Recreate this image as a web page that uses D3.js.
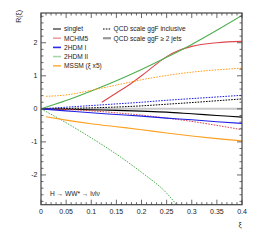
<!DOCTYPE html>
<html>
<head>
<meta charset="utf-8">
<script src="https://cdn.jsdelivr.net/npm/d3@7"></script>
<style>
  body { margin: 0; background: #fff; }
  text { font-family: "Liberation Sans", Arial, sans-serif; }
</style>
</head>
<body>
<svg id="root" width="255" height="245"></svg>
<script>
"use strict";

// series: [xi, R] pairs
const singletSolid = [[0, 0], [0.05, -0.01], [0.1, -0.03], [0.15, -0.045], [0.2, -0.07], [0.25, -0.1], [0.3, -0.15], [0.35, -0.2], [0.4, -0.25]];
const singletDash = [[0, 0], [0.05, 0.01], [0.1, 0.03], [0.15, 0.055], [0.2, 0.09], [0.25, 0.14], [0.3, 0.19], [0.35, 0.245], [0.4, 0.3]];
const mchmSolid = [[0.121, 0.2], [0.15, 0.48], [0.175, 0.72], [0.2, 1.0], [0.225, 1.3], [0.25, 1.58], [0.275, 1.77], [0.3, 1.89], [0.35, 2.0], [0.4, 2.04]];
const mchmDash = [[0, 0], [0.05, -0.02], [0.1, -0.06], [0.15, -0.12], [0.2, -0.19], [0.25, -0.28], [0.3, -0.38], [0.35, -0.5], [0.4, -0.63]];
const thdm1Solid = [[0, 0], [0.05, -0.06], [0.1, -0.12], [0.15, -0.17], [0.2, -0.22], [0.25, -0.28], [0.3, -0.33], [0.35, -0.39], [0.4, -0.44]];
const thdm1Dash = [[0, 0], [0.05, 0.05], [0.1, 0.1], [0.15, 0.15], [0.2, 0.2], [0.25, 0.26], [0.3, 0.31], [0.35, 0.36], [0.4, 0.41]];
const thdm2Solid = [[0, 0], [0.05, 0.25], [0.1, 0.54], [0.15, 0.85], [0.2, 1.19], [0.25, 1.56], [0.3, 1.95], [0.35, 2.38], [0.4, 2.83]];
const thdm2Dash = [[0, 0], [0.05, -0.42], [0.1, -0.88], [0.15, -1.37], [0.2, -1.92], [0.25, -2.55], [0.275, -3.0]];
const mssmSolid = [[0.01, -0.24], [0.05, -0.34], [0.1, -0.45], [0.15, -0.54], [0.2, -0.63], [0.25, -0.73], [0.3, -0.82], [0.35, -0.9], [0.4, -0.97]];
const mssmDash = [[0.01, 0.38], [0.05, 0.42], [0.1, 0.56], [0.15, 0.72], [0.2, 0.88], [0.25, 1.01], [0.3, 1.11], [0.35, 1.18], [0.4, 1.23]];

const xTicks = [0, 0.05, 0.1, 0.15, 0.2, 0.25, 0.3, 0.35, 0.4];
const yTicks = [-2, -1, 0, 1, 2];

const models = [
  { name: "singlet", color: "#000000", solid: singletSolid, dash: singletDash },
  { name: "MCHM5", color: "#e0474c", solid: mchmSolid, dash: mchmDash },
  { name: "2HDM I", color: "#1f1fe6", solid: thdm1Solid, dash: thdm1Dash },
  { name: "2HDM II", color: "#4fae4f", solid: thdm2Solid, dash: thdm2Dash },
  { name: "MSSM (\u03be x5)", color: "#ffa020", solid: mssmSolid, dash: mssmDash },
];
const legendColors = ["#000000", "#eba0a2", "#2a2af0", "#a6d8a6", "#ffb54d"];

const svg = d3.select("#root");
const frame = { left: 41, right: 242, top: 13, bottom: 204.7 };

const x = d3.scaleLinear().domain([0, 0.4]).range([frame.left, frame.right]);
const y = d3.scaleLinear().domain([-2.9, 2.9]).range([frame.bottom, frame.top]);

svg.append("defs").append("clipPath").attr("id", "plotClip")
  .append("rect").attr("x", frame.left).attr("y", frame.top)
  .attr("width", frame.right - frame.left).attr("height", frame.bottom - frame.top);

const plot = svg.append("g").attr("clip-path", "url(#plotClip)");

// zero reference band
plot.append("line")
  .attr("x1", x(0)).attr("x2", x(0.4))
  .attr("y1", y(0)).attr("y2", y(0))
  .attr("stroke", "#c8c8c8").attr("stroke-width", 2);

const line = d3.line().x((d) => x(d[0])).y((d) => y(d[1])).curve(d3.curveMonotoneX);

models.forEach((m) => {
  plot.append("path").attr("d", line(m.dash))
    .attr("fill", "none").attr("stroke", m.color)
    .attr("stroke-width", 1).attr("stroke-dasharray", "1.6,1.2");
  plot.append("path").attr("d", line(m.solid))
    .attr("fill", "none").attr("stroke", m.color)
    .attr("stroke-width", 1.1);
});

// frame with ticks on all four sides
const axisColor = "#444";
svg.append("rect")
  .attr("x", frame.left).attr("y", frame.top)
  .attr("width", frame.right - frame.left).attr("height", frame.bottom - frame.top)
  .attr("fill", "none").attr("stroke", axisColor).attr("stroke-width", 1.2);

const xMinor = d3.range(0, 0.4001, 0.01);
const yMinor = d3.range(-2.8, 2.8001, 0.2);
const ticks = svg.append("g").attr("stroke", axisColor).attr("stroke-width", 0.8);

xMinor.forEach((v, i) => {
  const len = i % 5 === 0 ? 5 : 2.5;
  ticks.append("line").attr("x1", x(v)).attr("x2", x(v)).attr("y1", frame.bottom).attr("y2", frame.bottom - len);
  ticks.append("line").attr("x1", x(v)).attr("x2", x(v)).attr("y1", frame.top).attr("y2", frame.top + len);
});
yMinor.forEach((v) => {
  const major = Math.abs(v - Math.round(v)) < 1e-6;
  const len = major ? 5 : 2.5;
  ticks.append("line").attr("x1", frame.left).attr("x2", frame.left + len).attr("y1", y(v)).attr("y2", y(v));
  ticks.append("line").attr("x1", frame.right).attr("x2", frame.right - len).attr("y1", y(v)).attr("y2", y(v));
});

// tick labels
svg.append("g").selectAll("text").data(xTicks).join("text")
  .attr("x", (d) => x(d)).attr("y", 213.5)
  .attr("text-anchor", "middle").attr("font-size", 7).attr("fill", "#222")
  .text((d) => d3.format("")(d));

svg.append("g").selectAll("text").data(yTicks).join("text")
  .attr("x", 37.5).attr("y", (d) => y(d) + 2.5)
  .attr("text-anchor", "end").attr("font-size", 7).attr("fill", "#222")
  .text((d) => d);

// axis titles
svg.append("text")
  .attr("transform", "translate(21, 10) rotate(-90)")
  .attr("text-anchor", "end").attr("font-size", 7).attr("fill", "#222")
  .text("R(\u03be)");
svg.append("text")
  .attr("x", 240).attr("y", 227)
  .attr("text-anchor", "middle").attr("font-size", 7).attr("fill", "#222")
  .text("\u03be");

// legend, left column
const legend = svg.append("g");
models.forEach((m, i) => {
  const ly = 29 + i * 9.2;
  legend.append("line")
    .attr("x1", 53).attr("x2", 61).attr("y1", ly).attr("y2", ly)
    .attr("stroke", legendColors[i]).attr("stroke-width", i === 0 ? 1 : 1.6);
  legend.append("text")
    .attr("x", 64).attr("y", ly + 2.4)
    .attr("font-size", 6.6).attr("fill", "#222")
    .text(m.name);
});

// legend, right column
legend.append("line")
  .attr("x1", 103).attr("x2", 111).attr("y1", 29).attr("y2", 29)
  .attr("stroke", "#000").attr("stroke-width", 1).attr("stroke-dasharray", "1.6,1.2");
legend.append("text")
  .attr("x", 113.5).attr("y", 31.4).attr("font-size", 6.6).attr("fill", "#222")
  .text("QCD scale ggF inclusive");
legend.append("line")
  .attr("x1", 103).attr("x2", 111).attr("y1", 38.2).attr("y2", 38.2)
  .attr("stroke", "#999").attr("stroke-width", 2.2);
legend.append("text")
  .attr("x", 113.5).attr("y", 40.6).attr("font-size", 6.6).attr("fill", "#222")
  .text("QCD scale ggF \u2265 2 jets");

// process label
svg.append("text")
  .attr("x", 50).attr("y", 196).attr("font-size", 6.6).attr("fill", "#222")
  .text("H \u2192 WW* \u2192 l\u03bdl\u03bd");
</script>
</body>
</html>
